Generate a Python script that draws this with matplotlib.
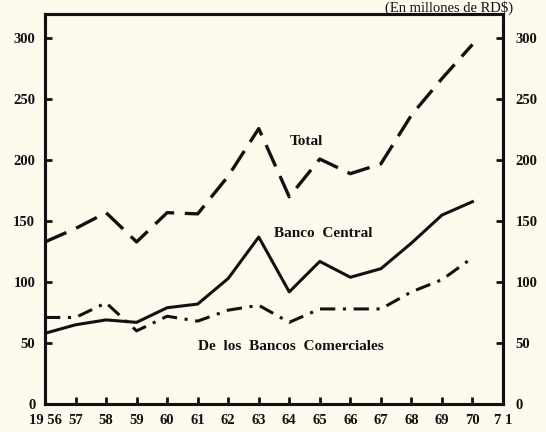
import matplotlib.pyplot as plt

# years 1956..1970, values in millions of RD$
years = [56, 57, 58, 59, 60, 61, 62, 63, 64, 65, 66, 67, 68, 69, 70]
total = [133, 144, 157, 133, 157, 156, 187, 226, 170, 201, 189, 197, 237, 267, 295]
banco_central = [58, 65, 69, 67, 79, 82, 103, 137, 92, 117, 104, 111, 132, 155, 166]
comerciales = [71, 71, 83, 60, 72, 68, 77, 81, 67, 78, 78, 78, 92, 102, 120]

xtick_pos = list(range(56, 72))
xtick_labels = ["19 56", "57", "58", "59", "60", "61", "62", "63", "64",
                "65", "66", "67", "68", "69", "70", "7 1"]
ytick_pos = [0, 50, 100, 150, 200, 250, 300]
ytick_labels = ["0", "50", "100", "150", "200", "250", "300"]

bg = "#fdfbee"
ink = "#111111"
font = "Liberation Serif"

fig = plt.figure(figsize=(5.46, 4.32), dpi=100, facecolor=bg)
ax = fig.add_axes([45 / 546, 1 - 404 / 432, 458 / 546, 390 / 432])
ax.set_facecolor(bg)

ax.plot(years, total, color=ink, lw=2.4, dashes=(7, 3.2), solid_capstyle="butt")
ax.plot(years, banco_central, color=ink, lw=2.2)
ax.plot(years, comerciales, color=ink, lw=2.2, dashes=(5, 2.5, 1, 2.5))

ax.set_xlim(56, 71)
ax.set_ylim(0, 320)

for s in ax.spines.values():
    s.set_linewidth(2.2)
    s.set_color(ink)

ax.set_xticks(xtick_pos)
ax.set_xticklabels(xtick_labels)
ax.set_yticks(ytick_pos)
ax.set_yticklabels(ytick_labels)
ax.tick_params(axis="both", direction="in", length=5, width=2, color=ink,
               labelsize=10.5, labelcolor=ink)
ax.tick_params(axis="y", pad=7)
ax.tick_params(axis="x", pad=7)
for lab in ax.get_xticklabels() + ax.get_yticklabels():
    lab.set_fontfamily(font)
    lab.set_fontweight("bold")

ax2 = ax.twinx()
ax2.set_ylim(0, 320)
ax2.set_yticks(ytick_pos)
ax2.set_yticklabels(ytick_labels)
ax2.tick_params(axis="y", direction="in", length=5, width=2, color=ink,
                labelsize=10.5, labelcolor=ink, pad=9)
for lab in ax2.get_yticklabels():
    lab.set_fontfamily(font)
    lab.set_fontweight("bold")
for s in ax2.spines.values():
    s.set_linewidth(2.2)
    s.set_color(ink)

# series labels
lbl = dict(fontsize=11, family=font, fontweight="bold", color=ink, va="center")
ax.text(64.0, 215, "Total", **lbl)
ax.text(63.5, 140, "Banco  Central", **lbl)
ax.text(61.0, 47, "De  los  Bancos  Comerciales", **lbl)

fig.text(449 / 546, 1 - 1 / 432, "(En millones de RD$)", fontsize=10.5, family=font,
         color=ink, ha="center", va="top")

fig.savefig("out.png", dpi=100, facecolor=bg)
